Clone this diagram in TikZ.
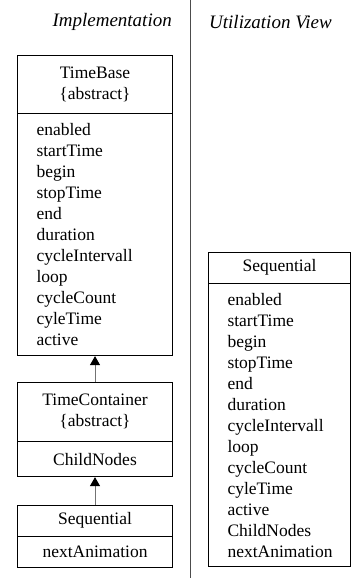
\documentclass[tikz,border=0pt]{standalone}
\usepackage{fontspec}
\setmainfont{Liberation Serif}
\usetikzlibrary{arrows.meta}
\usetikzlibrary{positioning}

\tikzset{
	umlbox/.style = {draw, line width=0.8pt, inner sep=0pt, align=center, font=\fontsize{17.5}{21}\selectfont},
	umlattr/.style = {umlbox, align=left, inner xsep=19pt},
	viewtitle/.style = {inner sep=0pt, font=\fontsize{19}{23}\selectfont\itshape},
	inherit/.style = {draw=black!55, line width=1pt, -{Triangle[black, width=10pt, length=9pt]}}
}

\begin{document}
\begin{tikzpicture}[x=1pt, y=1pt]
		\useasboundingbox (0,0) rectangle (351,-578);
		\node[viewtitle, anchor=east] (impltitle) at (172,-22) {Implementation};
		\node[viewtitle, anchor=west] (usetitle) at (209,-22) {Utilization View};
		\coordinate (septop) at (190.5,0);
		\coordinate (sepbot) at (190.5,-578);
		\draw[black!70, line width=1pt] (septop) -- (sepbot);
		\node[umlbox, minimum width=155pt, minimum height=57pt, anchor=north] (tbhead) at (95,-55.5) {TimeBase\\\{abstract\}};
		\node[umlattr, text width=117pt, minimum height=242pt, anchor=north] (tbattr) at (tbhead.south) {enabled\\startTime\\begin\\stopTime\\end\\duration\\cycleIntervall\\loop\\cycleCount\\cyleTime\\active};
		\node[umlbox, minimum width=155pt, minimum height=59pt, anchor=north] (tchead) at (95,-381.5) {TimeContainer\\\{abstract\}};
		\node[umlattr, text width=117pt, minimum height=35pt, anchor=north, align=center] (tcattr) at (tchead.south) {ChildNodes};
		\node[umlbox, minimum width=155pt, minimum height=31pt, anchor=north] (seqhead) at (95,-504.5) {Sequential};
		\node[umlattr, text width=117pt, minimum height=31pt, anchor=north, align=center] (seqattr) at (seqhead.south) {nextAnimation};
		\draw[inherit] (tchead.north) -- (tbattr.south);
		\draw[inherit] (seqhead.north) -- (tcattr.south);
		\node[umlbox, minimum width=142pt, minimum height=31pt, anchor=north] (usehead) at (279.5,-251.5) {Sequential};
		\node[umlattr, text width=104pt, minimum height=283pt, anchor=north] (useattr) at (usehead.south) {enabled\\startTime\\begin\\stopTime\\end\\duration\\cycleIntervall\\loop\\cycleCount\\cyleTime\\active\\ChildNodes\\nextAnimation};
	\end{tikzpicture}
\end{document}
